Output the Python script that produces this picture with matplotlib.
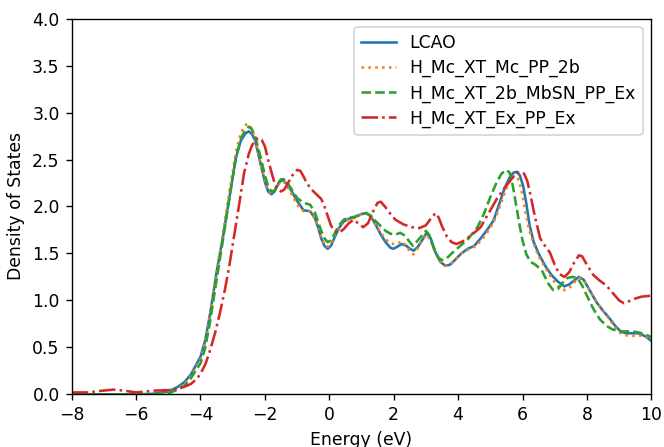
import matplotlib
matplotlib.use("Agg")
import matplotlib.pyplot as plt

# ---- data ----
e_lcao = [-8, -7, -6, -5.5, -5.0, -4.7, -4.5, -4.3, -4.0, -3.85, -3.7, -3.5, -3.3, -3.1, -2.9, -2.75, -2.6, -2.5,
          -2.4, -2.3, -2.15, -2.0, -1.9, -1.8, -1.7, -1.6, -1.5, -1.4, -1.3, -1.2, -1.0, -0.8, -0.6, -0.45, -0.35,
          -0.25, -0.15, -0.05, 0.05, 0.15, 0.3, 0.45, 0.6, 0.8, 1.0, 1.15, 1.3, 1.45, 1.6, 1.75, 1.9, 2.0, 2.1,
          2.25, 2.4, 2.5, 2.62, 2.75, 2.9, 3.02, 3.15, 3.3, 3.45, 3.6, 3.75, 3.9, 4.1, 4.3, 4.5, 4.7, 4.9, 5.1,
          5.3, 5.45, 5.6, 5.72, 5.82, 5.92, 6.02, 6.12, 6.22, 6.35, 6.5, 6.7, 6.9, 7.1, 7.3, 7.45, 7.6, 7.75,
          7.9, 8.1, 8.3, 8.5, 8.7, 8.9, 9.05, 9.2, 9.4, 9.6, 9.8, 10.0]
d_lcao = [0.0, 0.0, 0.0, 0.005, 0.03, 0.08, 0.13, 0.21, 0.40, 0.58, 0.86, 1.30, 1.68, 2.10, 2.52, 2.70, 2.78, 2.80,
          2.77, 2.70, 2.48, 2.26, 2.16, 2.13, 2.16, 2.23, 2.28, 2.27, 2.23, 2.18, 2.06, 1.96, 1.95, 1.88, 1.78,
          1.66, 1.58, 1.55, 1.58, 1.66, 1.77, 1.84, 1.87, 1.89, 1.92, 1.93, 1.89, 1.80, 1.70, 1.62, 1.56, 1.55, 1.57,
          1.60, 1.58, 1.55, 1.53, 1.57, 1.65, 1.72, 1.66, 1.51, 1.41, 1.37, 1.38, 1.43, 1.50, 1.55, 1.58, 1.66, 1.75, 1.85,
          2.05, 2.20, 2.31, 2.36, 2.37, 2.33, 2.22, 2.03, 1.80, 1.62, 1.50, 1.37, 1.27, 1.20, 1.15, 1.17, 1.21, 1.25,
          1.22, 1.10, 0.98, 0.89, 0.81, 0.72, 0.67, 0.65, 0.65, 0.65, 0.62, 0.57]

e_mc2b = [-8, -6, -5.5, -5.0, -4.7, -4.5, -4.3, -4.0, -3.85, -3.7, -3.5, -3.3, -3.1, -2.9, -2.75, -2.6, -2.5, -2.4,
          -2.3, -2.15, -2.0, -1.9, -1.8, -1.7, -1.6, -1.5, -1.4, -1.3, -1.2, -1.0, -0.8, -0.6, -0.45, -0.35, -0.25,
          -0.15, -0.05, 0.05, 0.15, 0.3, 0.45, 0.6, 0.8, 1.0, 1.15, 1.3, 1.45, 1.6, 1.75, 1.9, 2.0, 2.1, 2.25, 2.4,
          2.5, 2.62, 2.75, 2.9, 3.02, 3.15, 3.3, 3.45, 3.6, 3.75, 3.9, 4.1, 4.3, 4.5, 4.7, 4.9, 5.1, 5.3, 5.45, 5.6,
          5.72, 5.8, 5.9, 6.0, 6.1, 6.2, 6.35, 6.5, 6.7, 6.9, 7.1, 7.3, 7.45, 7.6, 7.75, 7.9, 8.1, 8.3, 8.5, 8.7,
          8.9, 9.05, 9.2, 9.4, 9.6, 9.8, 10.0]
d_mc2b = [0.0, 0.0, 0.0, 0.02, 0.06, 0.11, 0.19, 0.37, 0.55, 0.84, 1.30, 1.72, 2.16, 2.58, 2.78, 2.87, 2.88, 2.82,
          2.72, 2.48, 2.28, 2.18, 2.14, 2.17, 2.23, 2.27, 2.26, 2.21, 2.15, 2.02, 1.95, 1.95, 1.87, 1.77, 1.67,
          1.60, 1.57, 1.60, 1.68, 1.78, 1.84, 1.86, 1.88, 1.92, 1.93, 1.88, 1.80, 1.72, 1.65, 1.61, 1.60, 1.60, 1.63, 1.58,
          1.52, 1.49, 1.56, 1.65, 1.70, 1.64, 1.50, 1.41, 1.37, 1.38, 1.43, 1.50, 1.54, 1.57, 1.63, 1.72, 1.83, 2.00, 2.15, 2.27,
          2.32, 2.33, 2.27, 2.12, 1.92, 1.76, 1.60, 1.47, 1.35, 1.24, 1.15, 1.11, 1.13, 1.19, 1.24, 1.21, 1.10, 0.98, 0.89, 0.80,
          0.70, 0.65, 0.63, 0.62, 0.63, 0.61, 0.60]

e_mbsn = [-8, -6, -5.5, -5.0, -4.7, -4.5, -4.3, -4.0, -3.85, -3.7, -3.5, -3.3, -3.1, -2.9, -2.75, -2.6, -2.5, -2.4,
          -2.3, -2.15, -2.0, -1.9, -1.8, -1.7, -1.6, -1.5, -1.4, -1.3, -1.2, -1.0, -0.8, -0.6, -0.45, -0.35, -0.25,
          -0.15, -0.05, 0.05, 0.15, 0.3, 0.45, 0.6, 0.8, 1.0, 1.15, 1.3, 1.45, 1.6, 1.75, 1.9, 2.05, 2.2, 2.35, 2.5,
          2.6, 2.7, 2.85, 3.0, 3.1, 3.25, 3.4, 3.5, 3.65, 3.8, 4.0, 4.3, 4.6, 4.8, 5.0, 5.2, 5.35, 5.5, 5.6, 5.7,
          5.8, 5.9, 6.0, 6.12, 6.25, 6.4, 6.6, 6.8, 6.95, 7.1, 7.25, 7.4, 7.55, 7.7, 7.85, 8.0, 8.2, 8.4, 8.6, 8.8,
          9.0, 9.2, 9.4, 9.6, 9.8, 10.0]
d_mbsn = [0.0, 0.0, 0.0, 0.01, 0.05, 0.09, 0.17, 0.33, 0.50, 0.78, 1.22, 1.65, 2.10, 2.52, 2.72, 2.82, 2.85, 2.82,
          2.74, 2.55, 2.33, 2.22, 2.16, 2.17, 2.24, 2.29, 2.29, 2.25, 2.20, 2.09, 2.04, 2.02, 1.94, 1.84, 1.74,
          1.66, 1.62, 1.64, 1.70, 1.80, 1.86, 1.88, 1.89, 1.92, 1.93, 1.90, 1.84, 1.79, 1.74, 1.71, 1.70, 1.72, 1.69, 1.62,
          1.58, 1.62, 1.68, 1.74, 1.70, 1.55, 1.45, 1.43, 1.45, 1.50, 1.56, 1.65, 1.78, 1.92, 2.10, 2.26, 2.35, 2.39, 2.36, 2.22,
          2.02, 1.82, 1.64, 1.49, 1.41, 1.38, 1.32, 1.18, 1.11, 1.12, 1.19, 1.24, 1.25, 1.24, 1.16, 1.05, 0.91, 0.80, 0.73, 0.69,
          0.67, 0.67, 0.67, 0.66, 0.64, 0.61]

e_expp = [-8, -7.5, -7.0, -6.7, -6.4, -6.0, -5.7, -5.4, -5.0, -4.7, -4.5, -4.3, -4.1, -4.0, -3.85, -3.7, -3.55, -3.4,
          -3.25, -3.1, -2.95, -2.8, -2.65, -2.5, -2.4, -2.3, -2.2, -2.1, -2.0, -1.9, -1.8, -1.7, -1.6, -1.5, -1.4,
          -1.3, -1.15, -1.0, -0.9, -0.8, -0.7, -0.55, -0.4, -0.25, -0.15, -0.05, 0.05, 0.15, 0.3, 0.45, 0.6, 0.75,
          0.9, 1.05, 1.2, 1.35, 1.5, 1.6, 1.75, 1.9, 2.05, 2.3, 2.55, 2.8, 3.0, 3.15, 3.3, 3.4, 3.5, 3.65, 3.8, 3.95,
          4.15, 4.4, 4.7, 4.95, 5.2, 5.45, 5.7, 5.85, 5.95, 6.05, 6.15, 6.25, 6.35, 6.45, 6.55, 6.7, 6.85, 7.0, 7.15,
          7.3, 7.45, 7.6, 7.75, 7.85, 8.0, 8.2, 8.4, 8.6, 8.8, 9.0, 9.15, 9.3, 9.5, 9.7, 10.0]
d_expp = [0.02, 0.02, 0.04, 0.05, 0.04, 0.02, 0.03, 0.04, 0.045, 0.06, 0.08, 0.11, 0.17, 0.22, 0.32, 0.47, 0.65, 0.86,
          1.10, 1.38, 1.70, 2.02, 2.35, 2.56, 2.65, 2.71, 2.73, 2.71, 2.64, 2.50, 2.37, 2.25, 2.18, 2.16, 2.18,
          2.24, 2.33, 2.39, 2.38, 2.32, 2.25, 2.18, 2.13, 2.08, 2.00, 1.90, 1.80, 1.74, 1.72, 1.76, 1.82, 1.86,
          1.82, 1.78, 1.82, 1.94, 2.04, 2.05, 1.99, 1.92, 1.86, 1.81, 1.78, 1.77, 1.80, 1.87, 1.93, 1.88, 1.79, 1.68, 1.62, 1.60,
          1.63, 1.69, 1.78, 1.93, 2.08, 2.20, 2.31, 2.36, 2.37, 2.35, 2.27, 2.12, 1.95, 1.80, 1.66, 1.58, 1.51, 1.38, 1.28,
          1.25, 1.30, 1.40, 1.48, 1.47, 1.38, 1.27, 1.21, 1.16, 1.08, 1.00, 0.97, 0.99, 1.02, 1.04, 1.05]

labels = ["LCAO", "H_Mc_XT_Mc_PP_2b", "H_Mc_XT_2b_MbSN_PP_Ex", "H_Mc_XT_Ex_PP_Ex"]

DPI = 124
fig = plt.figure(figsize=(664 / DPI, 447 / DPI), dpi=DPI)
ax = fig.add_axes([71.7 / 664, (447 - 394.3) / 447, (651.3 - 71.7) / 664, (394.3 - 18.7) / 447])

ax.plot(e_lcao, d_lcao, color="#1f77b4", linestyle="-", label=labels[0])
ax.plot(e_mc2b, d_mc2b, color="#ff7f0e", linestyle=":", label=labels[1])
ax.plot(e_mbsn, d_mbsn, color="#2ca02c", linestyle="--", label=labels[2])
ax.plot(e_expp, d_expp, color="#d62728", linestyle="-.", label=labels[3])

ax.set_xlim(-8, 10)
ax.set_ylim(0, 4)
ax.set_xticks([-8, -6, -4, -2, 0, 2, 4, 6, 8, 10])
ax.set_yticks([0.0, 0.5, 1.0, 1.5, 2.0, 2.5, 3.0, 3.5, 4.0])
ax.set_xlabel("Energy (eV)")
ax.set_ylabel("Density of States")
ax.legend(loc="upper right", labelspacing=0.4)

fig.savefig("out.png", dpi=DPI)
